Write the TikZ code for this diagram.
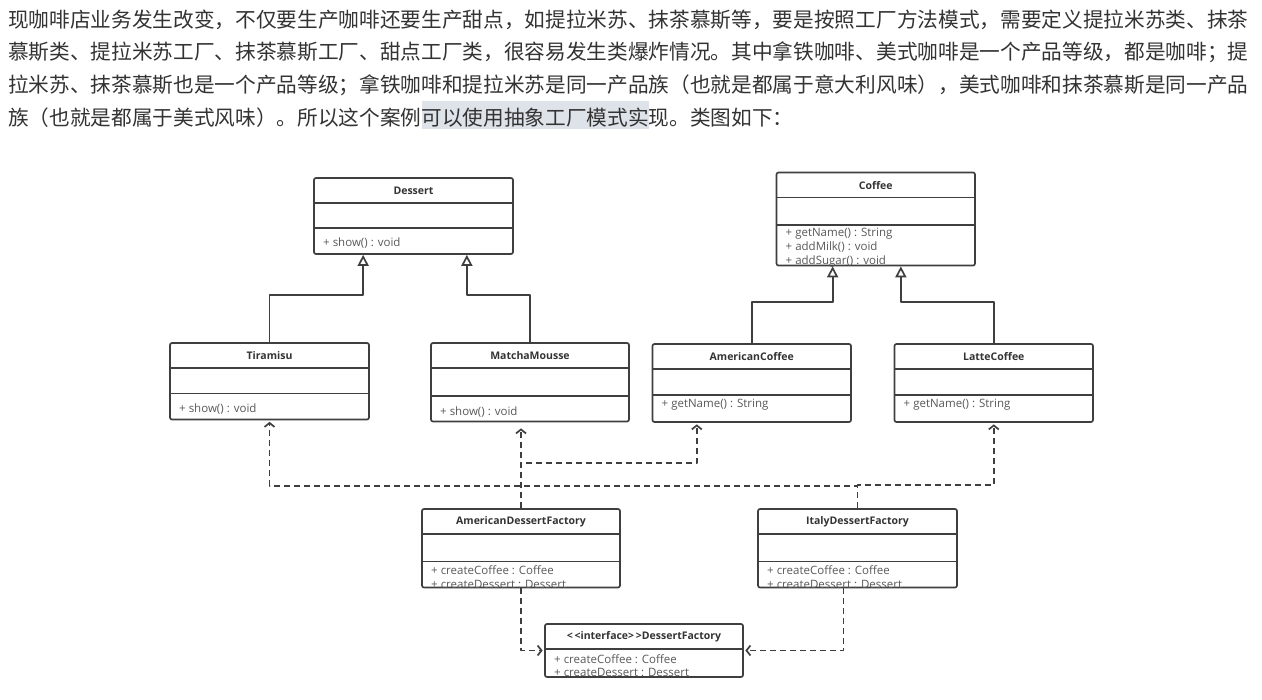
\documentclass[tikz,border=0pt]{standalone}
\usepackage{fontspec}
\setmainfont{Open Sans}
\newfontfamily\cjkfont{Noto Sans CJK SC}
\usetikzlibrary{arrows.meta,fit}
\definecolor{inkgray}{HTML}{333333}
\definecolor{linegray}{HTML}{3F3F3F}
\definecolor{opgray}{HTML}{595959}
\definecolor{marked}{HTML}{DEE3EA}
\tikzset{
  every picture/.style={line join=round},
  para/.style={anchor=west, inner sep=0pt, text=inkgray, font=\cjkfont\fontsize{20.67}{24}\selectfont},
  classbox/.style={draw=linegray, line width=1.7pt, rounded corners=2pt, inner sep=0pt},
  classline/.style={draw=linegray, line width=1.6pt},
  clsname/.style={inner sep=0pt, text=inkgray, font=\bfseries\fontsize{10.5}{12}\selectfont},
  ops/.style={anchor=north west, inner sep=0pt, align=left, text=opgray, font=\fontsize{11.5}{13.8}\selectfont},
  extends/.style={draw=linegray, line width=1.7pt, -{Triangle[open,length=11pt,width=11pt]}},
  uses/.style={draw=linegray, line width=1.7pt, dash pattern=on 6pt off 4pt, shorten >=1.5pt, -{Straight Barb[length=4pt,width=10pt]}},
}
% id, x1, y1, x2, y2, second divider, name, operations; [] = gap below divider
\newcommand{\umlbox}[9][15]{%
  \node[classbox, fit={(#3,#4) (#5,#6)}] (#2) {};
  \draw[classline] (#3,#4+25) -- (#5,#4+25) (#3,#7) -- (#5,#7);
  \node[clsname] (#2-name) at ({(#3+#5)/2},#4+13) {#8};
  \node[ops] (#2-ops) at (#3+9,#7+#1-5) {#9};
}

\begin{document}
\begin{tikzpicture}[x=1pt,y=-1pt]
\useasboundingbox[fill=white] (0,0) rectangle (1262,700);
\fill[marked] (422,101) rectangle (649,129);
\node[para] (line1) at (8,20) {现咖啡店业务发生改变，不仅要生产咖啡还要生产甜点，如提拉米苏、抹茶慕斯等，要是按照工厂方法模式，需要定义提拉米苏类、抹茶};
\node[para] (line2) at (8,52.5) {慕斯类、提拉米苏工厂、抹茶慕斯工厂、甜点工厂类，很容易发生类爆炸情况。其中拿铁咖啡、美式咖啡是一个产品等级，都是咖啡；提};
\node[para] (line3) at (8,85) {拉米苏、抹茶慕斯也是一个产品等级；拿铁咖啡和提拉米苏是同一产品族（也就是都属于意大利风味），美式咖啡和抹茶慕斯是同一产品};
\node[para] (line4) at (8,117.5) {族（也就是都属于美式风味）。所以这个案例可以使用抽象工厂模式实现。类图如下：};

\umlbox{dessert}{314}{178}{513}{254}{228}{Dessert}{+ show() : void}
\umlbox[8]{coffee}{776.5}{172.5}{975}{265.5}{225}{Coffee}{+ getName() : String\\+ addMilk() : void\\+ addSugar() : void}
\umlbox[15.5]{tiramisu}{170}{343}{369}{419.5}{393.5}{Tiramisu}{+ show() : void}
\umlbox[16]{matcha}{431}{343}{629}{421.5}{396}{MatchaMousse}{+ show() : void}
\umlbox[8.5]{americancoffee}{652.5}{344}{851}{422}{395}{AmericanCoffee}{+ getName() : String}
\umlbox[8.5]{lattecoffee}{894.5}{344}{1093}{422}{395}{LatteCoffee}{+ getName() : String}
\umlbox[9]{americanfactory}{422}{509}{620}{587.5}{561.5}{AmericanDessertFactory}{+ createCoffee : Coffee\\+ createDessert : Dessert}
\umlbox[9]{italyfactory}{758}{509}{957}{587.5}{561.5}{ItalyDessertFactory}{+ createCoffee : Coffee\\+ createDessert : Dessert}
\umlbox[10]{dessertfactory}{545}{624}{743}{677}{649}{<\,<interface>\,>DessertFactory}{+ createCoffee : Coffee\\+ createDessert : Dessert}

\draw[extends] (tiramisu.north) -- ++(0,-47) -| ([xshift=50pt]dessert.south west);
\draw[extends] (matcha.north) -- ++(0,-47) -| ([xshift=-47pt]dessert.south east);
\draw[extends] (americancoffee.north) -- ++(0,-41) -| ([xshift=57pt]coffee.south west);
\draw[extends] (lattecoffee.north) -- ++(0,-41) -| ([xshift=-75pt]coffee.south east);

\draw[uses, shorten >=6pt] (americanfactory.north) -- (americanfactory.north |- matcha.south);
\draw[uses] (americanfactory.north) -- ++(0,-45) -| ([xshift=-55pt]americancoffee.south);
\draw[uses] (italyfactory.north) -- ++(0,-22) -| (tiramisu.south);
\draw[uses] (italyfactory.north) -- ++(0,-23) -| (lattecoffee.south);
\draw[uses] (americanfactory.south) |- (dessertfactory.west);
\draw[uses] ([xshift=-14pt]italyfactory.south) |- (dessertfactory.east);
\end{tikzpicture}
\end{document}
